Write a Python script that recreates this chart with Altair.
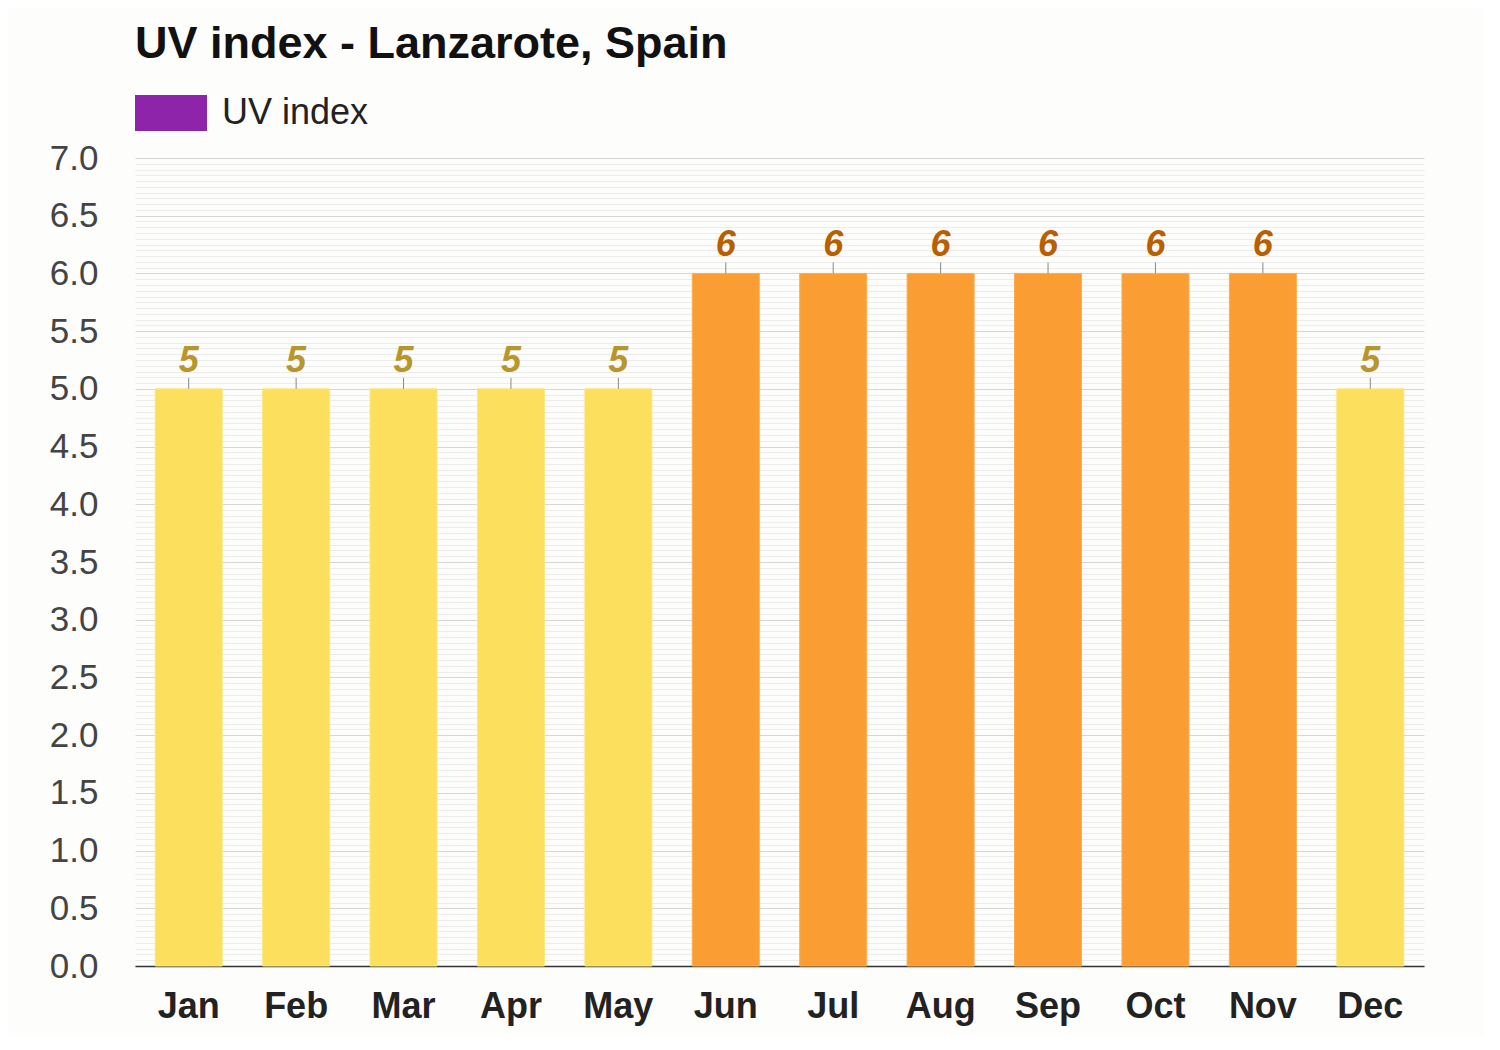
import altair as alt
import pandas as pd

months = ["Jan", "Feb", "Mar", "Apr", "May", "Jun", "Jul", "Aug", "Sep", "Oct", "Nov", "Dec"]
uv = [5, 5, 5, 5, 5, 6, 6, 6, 6, 6, 6, 5]
y_ticks = [round(i * 0.05, 2) for i in range(141)]

title_text = "UV index - Lanzarote, Spain"
legend_text = "UV index"

df = pd.DataFrame({"month": months, "uv": uv})
df["level"] = ["high" if v >= 6 else "moderate" for v in uv]

FONT = "Liberation Sans"
MAJOR = "abs(datum.value*2 - round(datum.value*2)) < 0.001"

x_axis = alt.Axis(title=None, labelAngle=0, labelFont=FONT, labelFontSize=36,
                  labelFontWeight="bold", labelColor="#222", labelPadding=23,
                  ticks=False, domainColor="#333", domainWidth=1.5, grid=False)
x_scale = alt.Scale(paddingInner=0.376, paddingOuter=0.188)

y_scale = alt.Scale(domain=[0, 7], nice=False, zero=True)

y_axis = alt.Axis(title=None, values=y_ticks,
                  labelExpr=MAJOR + " ? format(datum.value, '.1f') : ''",
                  labelOverlap=False, labelBound=False,
                  labelFont=FONT, labelFontSize=35, labelColor="#444", labelPadding=37,
                  ticks=False, domain=False, grid=True,
                  gridColor={"condition": {"test": MAJOR, "value": "#d6d6d6"},
                             "value": "#ececec"},
                  gridWidth=1)


def X():
    return alt.X("month:N", sort=months, scale=x_scale, axis=x_axis)


base = alt.Chart(df)

bars = base.mark_bar(strokeWidth=1).encode(
    x=X(),
    y=alt.Y("uv:Q", scale=y_scale, axis=y_axis),
    color=alt.Color("level:N", scale=alt.Scale(domain=["moderate", "high"],
                                                range=["#fcdf5c", "#fa9e33"]), legend=None),
    stroke=alt.Stroke("level:N", scale=alt.Scale(domain=["moderate", "high"],
                                                 range=["#fde683", "#fbad55"]), legend=None),
)

ticks = base.transform_calculate(top="datum.uv + 0.095").mark_rule(color="#888", strokeWidth=1).encode(
    x=X(),
    y=alt.Y("uv:Q", scale=y_scale, axis=y_axis),
    y2="top:Q",
)

labels = base.mark_text(font=FONT, fontSize=36, fontWeight="bold", fontStyle="italic",
                        baseline="alphabetic", dy=-17).encode(
    x=X(),
    y=alt.Y("uv:Q", scale=y_scale, axis=y_axis),
    text="uv:Q",
    color=alt.Color("level:N", scale=alt.Scale(domain=["moderate", "high"],
                                                range=["#b8962a", "#b85f00"]), legend=None),
)

one = pd.DataFrame({"t": [title_text], "l": [legend_text]})
title = alt.Chart(one).mark_text(font=FONT, fontSize=45, fontWeight="bold", color="#111",
                                  align="left", baseline="alphabetic").encode(
    x=alt.value(0), y=alt.value(-100), text="t:N")
legend_rect = alt.Chart(one).mark_rect(color="#8e24aa").encode(
    x=alt.value(0), x2=alt.value(72), y=alt.value(-63), y2=alt.value(-27))
legend_lbl = alt.Chart(one).mark_text(font=FONT, fontSize=36, color="#222",
                                      align="left", baseline="alphabetic").encode(
    x=alt.value(87), y=alt.value(-34), text="l:N")

chart = alt.layer(bars, ticks, labels, title, legend_rect, legend_lbl).resolve_scale(
    color="independent"
).properties(
    width=1289, height=808,
    autosize=alt.AutoSizeParams(type="none"),
    padding={"left": 127, "top": 150, "right": 60, "bottom": 70},
    background="#fdfdfc",
).configure_view(stroke=None)

chart.save("out.html", embed_options={"renderer": "svg", "actions": False})
